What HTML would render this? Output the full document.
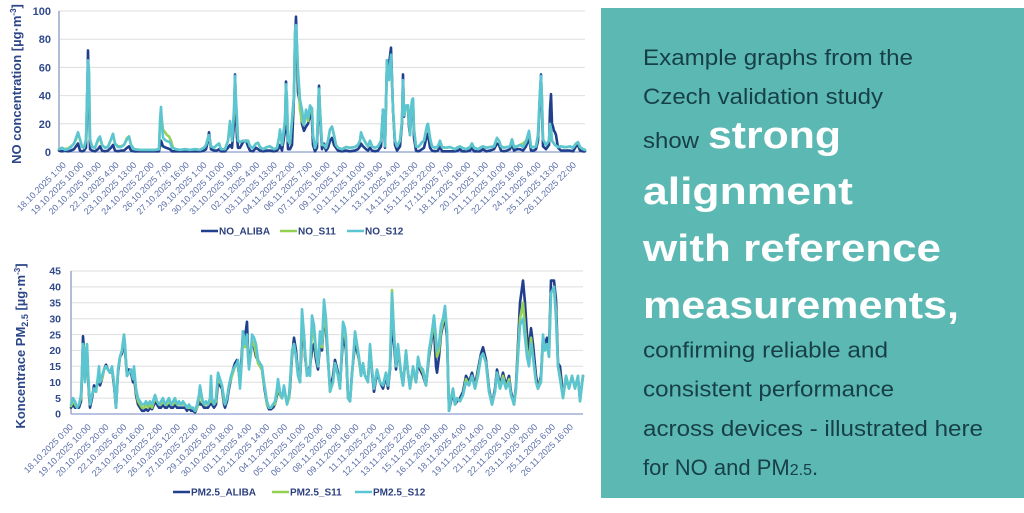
<!DOCTYPE html>
<html>
<head>
<meta charset="utf-8">
<style>
html,body{margin:0;padding:0;background:#fff;width:1024px;height:513px;overflow:hidden;}
svg{display:block;}
</style>
</head>
<body>
<svg width="1024" height="513" viewBox="0 0 1024 513" xmlns="http://www.w3.org/2000/svg">
<rect x="0" y="0" width="1024" height="513" fill="#ffffff"/>

<!-- ================= TOP CHART (NO) ================= -->
<g stroke="#dedede" stroke-width="1">
  <line x1="59" y1="11" x2="585" y2="11"/>
  <line x1="59" y1="39.2" x2="585" y2="39.2"/>
  <line x1="59" y1="67.4" x2="585" y2="67.4"/>
  <line x1="59" y1="95.6" x2="585" y2="95.6"/>
  <line x1="59" y1="123.8" x2="585" y2="123.8"/>
</g>
<line x1="59" y1="152" x2="585" y2="152" stroke="#8e9fd0" stroke-width="1.3"/>
<line x1="59" y1="11" x2="59" y2="152" stroke="#9aa6cc" stroke-width="1.5"/>

<g font-family="Liberation Sans, sans-serif" font-weight="bold" font-size="11" fill="#30498c" text-anchor="end">
  <text x="51" y="15">100</text>
  <text x="51" y="43.2">80</text>
  <text x="51" y="71.4">60</text>
  <text x="51" y="99.6">40</text>
  <text x="51" y="127.8">20</text>
  <text x="51" y="156">0</text>
</g>

<text transform="translate(21,84) rotate(-90)" text-anchor="middle" font-family="Liberation Sans, sans-serif" font-weight="bold" font-size="13" fill="#2c4688">NO concentration [µg·m<tspan font-size="8" dy="-5">-3</tspan><tspan dy="5">]</tspan></text>

<g transform="translate(0,152) scale(1,-1.41)" fill="none" stroke-linejoin="round" stroke-linecap="round">
<polyline vector-effect="non-scaling-stroke" stroke="#203f8c" stroke-width="2.6" points="59,1 62,0.5 65,1 68,0.5 71,1 74,2 76,4 78,6 80,1 82,0.5 84,1 86,3 87,30 88,72 89,40 90,2 92,1 95,0.5 98,2 100,4 102,1 105,0.5 108,1 111,3 113,5 115,1 118,0.5 121,1 124,1 127,3 129,4 131,1 134,0.5 140,0.5 150,0.5 159,0.5 160,4 161,8 162,6 163,4 166,3 170,2 172,0.5 180,0.5 190,0.5 200,0.5 204,1 206,2 208,8 209,14 211,2 214,1 217,1 219,2 221,0.5 225,0.5 228,3 230,5 232,3 234,20 235,55 236,30 237,10 238,3 240,3 243,7 246,8 248,4 250,1 253,0.5 256,3 258,2 260,1 263,0.5 267,1 270,1 274,0.5 277,1 279,3 280,5 282,1 285,15 286,50 287,20 288,2 290,2 292,5 294,40 295,80 296,96 297,70 298,42 300,35 302,20 304,15 306,18 308,20 310,28 312,22 313,5 315,0.5 317,3 319,47 320,25 322,2 324,6 326,1 328,3 330,8 332,10 334,5 336,3 338,1 342,0.5 346,1 350,0.5 355,1 358,2 360,4 361,6 363,4 366,2 368,1 370,3 372,1 375,0.5 378,1 381,4 383,30 385,3 387,65 389,62 391,74 393,30 395,5 397,1 400,4 402,20 403,55 404,25 406,32 408,33 409,18 410,12 411,25 412,35 413,37 414,10 416,1 418,0.5 420,1 422,2 424,3 427,12 428,13 430,3 432,1 435,0.5 438,1 440,4 442,0.5 446,0.5 450,0.5 455,0.5 458,1 460,2 462,0.5 466,0.5 470,1 472,3 474,0.5 478,0.5 480,0.5 483,2 486,0.5 490,1 494,2 497,6 499,5 501,1 504,0.5 507,1 510,2 512,6 514,1 517,2 520,2 523,1 526,4 529,10 531,1 534,1 536,2 538,8 540,40 541,55 542,30 543,4 546,2 549,5 550,30 551,41 552,20 553,18 554,15 555,14 556,12 558,3 561,1 564,1 567,1 570,1 573,0.5 576,4 578,5 580,1 583,0.5 585,0.5"/>
<polyline vector-effect="non-scaling-stroke" stroke="#96d15a" stroke-width="2.6" points="59,2 62,3 65,2 68,2.5 71,4 74,6 76,9 78,13 80,9 82,4 84,3 86,8 88,62 89,55 90,9 92,4 95,3 98,8 100,10 102,5 105,3 108,4 111,9 113,12 115,6 118,4 121,4 124,5 127,10 129,11 131,5 134,2 140,1.5 150,1.5 155,1.5 159,2 160,20 161,28 162,22 163,16 165,14 167,12 169,11 171,8 173,3 176,2 180,1.5 185,2 190,1.5 195,2 200,1.5 204,3 206,5 208,10 209,11 211,4 214,3 217,5 219,6 221,2 225,2 228,8 230,20 232,8 234,28 235,50 236,35 237,22 238,8 240,7 243,8 246,7.5 248,8 250,4 253,3 256,6 258,6.5 260,3.5 263,2 267,3.5 270,4 274,2 277,3 279,10 280,15 282,5 285,22 286,46 287,35 288,8 290,6 292,22 294,40 295,84 296,88 297,75 298,55 300,30 302,22 304,19 306,28 308,22 310,31 312,30 313,12 315,3 317,8 319,44 320,30 322,5 324,5 326,3 328,8 330,16 332,18 334,12 336,5 338,3 342,2 346,3.5 350,3 355,3.5 358,5 360,8 361,13 363,10 366,6 368,4 370,8 372,4 375,3 378,4 381,8 383,28 385,4 387,62 389,55 391,66 393,30 395,8 397,4 400,8 402,22 403,50 404,26 406,31 408,32 409,23 410,12 411,28 412,35 413,36 414,16 416,4 418,3.5 420,5 422,7 424,8 427,18 428,19 430,10 432,4 435,3 438,4 440,8 442,3.5 446,3 450,3.5 455,2 458,3.5 460,4 462,3 466,2 470,3.5 472,6 474,3 478,2 480,3 483,4 486,3 490,3.5 494,4 497,10 499,8 501,4 504,3 507,3.5 510,4 512,9 514,3.5 517,4 520,5 523,6 526,8 529,14 531,3.5 534,3.5 536,4 538,12 540,42 541,52 542,37 543,9 546,5 549,8 550,19 551,16 552,8 555,5 558,3.5 561,4 564,3.5 567,3.5 570,4 573,3 576,6 578,7 580,3.5 583,2 585,1.5"/>
<polyline vector-effect="non-scaling-stroke" stroke="#5cc5d2" stroke-width="2.6" points="59,2 62,3 65,1.5 68,2 71,3.5 74,6 76,10 78,14 80,9 82,3.5 84,3 86,9 88,65 89,58 90,9 92,3.5 95,3 98,9 100,11 102,5 105,3 108,3.5 111,9 113,13 115,6 118,3.5 121,3.5 124,5 127,9 129,11 131,5 134,2 140,1.5 150,1.5 155,1.5 159,2 160,22 161,32 162,19 163,10 166,8 170,7 172,3 176,2 180,1.5 185,2 190,1.5 195,2 200,1.5 204,3 206,5 208,10 209,12 211,4 214,3 217,5 219,6 221,2 225,2 228,8 230,22 232,8 234,30 235,54 236,37 237,24 238,8 240,7 243,8 246,7.5 248,8 250,4 253,3 256,6 258,6.5 260,3.5 263,2 267,3.5 270,4 274,2 277,3 279,10 280,16 282,5 285,23 286,48 287,37 288,8 290,6 292,23 294,40 295,86 296,90 297,76 298,58 300,37 302,30 304,19 306,30 308,24 310,33 312,31 313,12 315,3 317,8 319,45 320,30 322,5 324,5 326,3 328,8 330,16 332,18 334,12 336,5 338,3 342,2 346,3.5 350,3 355,3.5 358,5 360,8 361,14 363,10 366,6 368,4 370,8 372,4 375,3 378,4 381,8 383,30 385,4 387,65 389,51 391,69 393,30 395,8 397,4 400,8 402,22 403,51 404,26 406,33 408,33 409,23 410,12 411,30 412,37 413,38 414,16 416,4 418,3.5 420,5 422,7 424,8 427,19 428,20 430,10 432,4 435,3 438,4 440,8 442,3.5 446,3 450,3.5 455,2 458,3.5 460,4 462,3 466,2 470,3.5 472,6 474,3 478,2 480,3 483,4 486,3 490,3.5 494,4 497,10 499,8 501,4 504,3 507,3.5 510,4 512,9 514,3.5 517,4 520,5 523,3.5 526,7 529,15 531,3.5 534,3.5 536,4 538,12 540,44 541,54 542,37 543,9 546,5 549,8 550,20 551,16 552,8 555,5 558,3.5 561,4 564,3.5 567,3.5 570,4 573,3 576,6 578,7 580,3.5 583,2 585,1.5"/>
</g>

<g font-family="Liberation Sans, sans-serif" font-size="9" fill="#5a6ea8" text-anchor="end">
<text transform="translate(66.6,165.6) rotate(-45)">18.10.2025 1:00</text>
<text transform="translate(84.2,165.6) rotate(-45)">19.10.2025 10:00</text>
<text transform="translate(101.8,165.6) rotate(-45)">20.10.2025 19:00</text>
<text transform="translate(119.4,165.6) rotate(-45)">22.10.2025 4:00</text>
<text transform="translate(137.0,165.6) rotate(-45)">23.10.2025 13:00</text>
<text transform="translate(154.6,165.6) rotate(-45)">24.10.2025 22:00</text>
<text transform="translate(172.1,165.6) rotate(-45)">26.10.2025 7:00</text>
<text transform="translate(189.7,165.6) rotate(-45)">27.10.2025 16:00</text>
<text transform="translate(207.3,165.6) rotate(-45)">29.10.2025 1:00</text>
<text transform="translate(224.9,165.6) rotate(-45)">30.10.2025 10:00</text>
<text transform="translate(242.5,165.6) rotate(-45)">31.10.2025 19:00</text>
<text transform="translate(260.1,165.6) rotate(-45)">02.11.2025 4:00</text>
<text transform="translate(277.7,165.6) rotate(-45)">03.11.2025 13:00</text>
<text transform="translate(295.3,165.6) rotate(-45)">04.11.2025 22:00</text>
<text transform="translate(312.9,165.6) rotate(-45)">06.11.2025 7:00</text>
<text transform="translate(330.5,165.6) rotate(-45)">07.11.2025 16:00</text>
<text transform="translate(348.0,165.6) rotate(-45)">09.11.2025 1:00</text>
<text transform="translate(365.6,165.6) rotate(-45)">10.11.2025 10:00</text>
<text transform="translate(383.2,165.6) rotate(-45)">11.11.2025 19:00</text>
<text transform="translate(400.8,165.6) rotate(-45)">13.11.2025 4:00</text>
<text transform="translate(418.4,165.6) rotate(-45)">14.11.2025 13:00</text>
<text transform="translate(436.0,165.6) rotate(-45)">15.11.2025 22:00</text>
<text transform="translate(453.6,165.6) rotate(-45)">17.11.2025 7:00</text>
<text transform="translate(471.2,165.6) rotate(-45)">18.11.2025 16:00</text>
<text transform="translate(488.8,165.6) rotate(-45)">20.11.2025 1:00</text>
<text transform="translate(506.4,165.6) rotate(-45)">21.11.2025 10:00</text>
<text transform="translate(523.9,165.6) rotate(-45)">22.11.2025 19:00</text>
<text transform="translate(541.5,165.6) rotate(-45)">24.11.2025 4:00</text>
<text transform="translate(559.1,165.6) rotate(-45)">25.11.2025 13:00</text>
<text transform="translate(576.7,165.6) rotate(-45)">26.11.2025 22:00</text>
</g>

<!-- top legend -->
<g stroke-width="2.5">
  <line x1="201" y1="231" x2="218" y2="231" stroke="#203f8c"/>
  <line x1="280" y1="231" x2="297" y2="231" stroke="#92d050"/>
  <line x1="347" y1="231" x2="364" y2="231" stroke="#5cc5d2"/>
</g>
<g font-family="Liberation Sans, sans-serif" font-weight="bold" font-size="10" fill="#2b3f7e">
  <text x="219" y="234.5">NO_ALIBA</text>
  <text x="298" y="234.5">NO_S11</text>
  <text x="365" y="234.5">NO_S12</text>
</g>

<!-- ================= BOTTOM CHART (PM2.5) ================= -->
<g stroke="#dedede" stroke-width="1">
  <line x1="71" y1="271" x2="583" y2="271"/>
  <line x1="71" y1="286.9" x2="583" y2="286.9"/>
  <line x1="71" y1="302.8" x2="583" y2="302.8"/>
  <line x1="71" y1="318.7" x2="583" y2="318.7"/>
  <line x1="71" y1="334.6" x2="583" y2="334.6"/>
  <line x1="71" y1="350.4" x2="583" y2="350.4"/>
  <line x1="71" y1="366.3" x2="583" y2="366.3"/>
  <line x1="71" y1="382.2" x2="583" y2="382.2"/>
  <line x1="71" y1="398.1" x2="583" y2="398.1"/>
</g>
<line x1="71" y1="414" x2="583" y2="414" stroke="#8e9fd0" stroke-width="1.3"/>
<line x1="71" y1="271" x2="71" y2="414" stroke="#9aa6cc" stroke-width="1.5"/>

<g font-family="Liberation Sans, sans-serif" font-weight="bold" font-size="10.5" fill="#30498c" text-anchor="end">
  <text x="61" y="274.7">45</text>
  <text x="61" y="290.6">40</text>
  <text x="61" y="306.5">35</text>
  <text x="61" y="322.4">30</text>
  <text x="61" y="338.3">25</text>
  <text x="61" y="354.1">20</text>
  <text x="61" y="370">15</text>
  <text x="61" y="385.9">10</text>
  <text x="61" y="401.8">5</text>
  <text x="61" y="417.7">0</text>
</g>

<text transform="translate(25,346) rotate(-90)" text-anchor="middle" font-family="Liberation Sans, sans-serif" font-weight="bold" font-size="13" fill="#2c4688">Koncentrace PM<tspan font-size="9" dy="3">2.5</tspan><tspan dy="-3"> [µg·m</tspan><tspan font-size="8" dy="-5">-3</tspan><tspan dy="5">]</tspan></text>

<g transform="translate(0,414) scale(1,-3.178)" fill="none" stroke-linejoin="round" stroke-linecap="round">
<polyline vector-effect="non-scaling-stroke" stroke="#203f8c" stroke-width="2.6" points="71,2 73,3 75,2 77,2 79,2 81,4 82,12 83,24.5 84,20 85,12 86,20 87,17 88,12 89,6 90,2 92,5 94,9 96,8 98,10 99,12 100,9 102,11 104,14 106,15.5 108,14 110,13 112,14 114,9 116,2 118,13 120,18 122,19 124,24 125,20 127,12 129,14 131,13 133,10 134,12 136,6 138,3 140,2 142,1 144,1 146,1.5 148,1 150,2 152,1.5 154,3 155,4 157,3 159,2 161,2 163,3 165,2 167,2 169,3 171,2 173,2 175,3 177,2 179,2 181,2 183,2 185,2 187,1 189,2 191,1 193,1 195,0.5 197,2 199,4 200,3 202,3 204,2 206,2 208,2 210,3 211,4 212,3 214,2 216,3 218,10 220,9 222,8 224,3 225,2 227,4 229,8 231,11 233,14 235,16 237,17 238,15 240,10 242,20 243,26 245,24 247,29 248,20 249,16 251,20 252,22 254,21 256,18 258,17 260,15 262,14 264,9 265,7 267,3 269,1.5 271,1.5 273,2 275,3 277,6 278,8 280,6 282,5 284,8 286,5 287,4 289,5 290,8 292,18 294,24 296,20 298,13 300,10 302,24 304,25 305,18 307,13 309,14 310,15 312,20 314,22 316,17 318,14 320,22 322,20 324,30 326,26 328,17 330,8 333,12 335,17 338,13 340,9 343,24 345,22 346,20 348,5 350,4 352,13 355,22 357,20 359,17 361,13 363,15 365,12 368,11 370,20 372,13 374,7 377,13 380,10 383,8 386,12 388,8 390,14 392,30 394,22 396,14 398,20 401,13 403,9 406,19 408,13 410,9 413,14 416,10 418,16 420,14 423,12 426,9 429,18 432,24 434,27 436,15 437,13 439,18 441,25 443,28 445,30 447,24 449,1 451,4 453,7 455,3 457,4 460,5 463,7 466,12 469,10 472,13 475,9 478,14 481,19 483,21 486,17 489,8 492,3 495,8 497,14 500,9 503,13 506,9 509,12 511,7 514,3 516,9 518,22 520,35 523,42 525,35 527,25 529,20 531,27 533,22 536,12 538,8 541,12 543,24 545,22 547,24 549,20 551,42 554,42 556,36 558,16 560,15 563,6 566,11 569,9 572,11 575,9 578,11 580,5 583,12"/>
<polyline vector-effect="non-scaling-stroke" stroke="#96d15a" stroke-width="2.6" points="71,2.5 73,4 75,3 77,2 79,3 81,5 82,13 83,22 84,21 85,11 86,19 87,22 88,13 89,7 90,3 92,6 94,8 96,7 98,11 99,14 100,10 102,11 104,14 106,15 108,14 110,13 112,14 114,10 116,2 118,14 120,18 122,20 124,25 125,21 127,12 129,13 131,14 133,11 134,14 136,7 138,4 140,3 142,2 144,2 146,3 148,2 150,3 152,2 154,4 155,5 157,4 159,3 161,3 163,4 165,3 167,3 169,4 171,3 173,3 175,4 177,3 179,3 181,3 183,3 185,3 187,2 189,2 191,2 193,2 195,1 197,2 199,5 200,8 202,4 204,3 206,3 208,3 210,4 211,10 212,4 214,3 216,4 218,12 220,10 222,9 224,4 225,3 227,5 229,9 231,11 233,13 235,15 237,16 238,16 240,9 242,18 243,24 245,21 247,24 248,18 249,15 251,19 252,23 254,22 256,19 258,16 260,15 262,14 264,9 265,8 267,3 269,2 271,2 273,3 275,3 277,7 278,10 280,6 282,5 284,8 286,5 287,3 289,5 290,9 292,19 294,22 296,18 298,12 300,10 302,28 304,24 305,19 307,12 309,14 310,13 312,27 314,25 316,19 318,15 320,24 322,21 324,30 326,28 328,18 330,7 333,10 335,16 338,12 340,8 343,28 345,25 346,22 348,5 350,4 352,12 355,25 357,22 359,17 361,12 363,16 365,12 368,10 370,21 372,14 374,8 377,14 380,10 383,9 386,13 388,9 390,15 392,39 394,25 396,15 398,21 401,13 403,9 406,20 408,13 410,8 413,14 416,10 418,17 420,15 423,13 426,9 429,19 432,25 434,30 436,22 437,18 439,20 441,26 443,29 445,32 447,26 449,1 451,5 453,8 455,3 457,5 460,4 463,6 466,11 469,9 472,12 475,8 478,13 481,18 483,19 486,16 489,7 492,3 495,7 497,13 500,8 503,12 506,8 509,11 511,6 514,3 516,8 518,20 520,30 523,35 525,27 527,20 529,16 531,24 533,18 536,10 538,8 541,11 543,22 545,20 547,22 549,18 551,38 554,40 556,32 558,15 560,12 563,5 566,12 569,8 572,12 575,8 578,12 580,4 583,12"/>
<polyline vector-effect="non-scaling-stroke" stroke="#5cc5d2" stroke-width="2.6" points="71,3 73,5 75,4 77,2 79,3 81,6 82,14 83,22 84,20 85,10 86,18 87,22 88,14 89,8 90,3 92,6 94,8 96,7 98,12 99,15 100,10 102,12 104,14 106,15 108,14 110,13 112,15 114,10 116,2 118,14 120,18 122,20 124,25 125,22 127,12 129,13 131,14 133,11 134,15 136,8 138,5 140,4 142,3 144,3 146,4 148,3 150,4 152,3 154,5 155,6 157,4 159,3 161,4 163,5 165,3 167,4 169,5 171,3 173,4 175,5 177,3 179,4 181,3 183,4 185,3 187,2 189,3 191,2 193,2 195,1 197,3 199,6 200,9 202,5 204,3 206,4 208,3 210,5 211,12 212,5 214,3 216,5 218,13 220,11 222,9 224,5 225,3 227,5 229,9 231,12 233,14 235,15 237,16 238,17 240,8 242,18 243,26 245,22 247,25 248,18 249,14 251,20 252,25 254,24 256,22 258,17 260,16 262,15 264,10 265,8 267,4 269,2 271,2 273,3 275,4 277,8 278,11 280,7 282,5 284,9 286,5 287,3 289,6 290,10 292,20 294,22 296,18 298,12 300,10 302,33 304,25 305,20 307,12 309,14 310,12 312,31 314,28 316,20 318,15 320,26 322,22 324,36 326,30 328,18 330,7 333,10 335,16 338,12 340,8 343,29 345,27 346,24 348,5 350,4 352,12 355,26 357,22 359,18 361,12 363,16 365,12 368,10 370,22 372,14 374,8 377,14 380,10 383,9 386,13 388,9 390,15 392,38 394,25 396,15 398,22 401,13 403,9 406,20 408,13 410,8 413,15 416,10 418,18 420,15 423,14 426,9 429,20 432,26 434,31 436,24 437,20 439,22 441,28 443,30 445,34 447,26 449,1 451,5 453,8 455,3 457,5 460,4 463,6 466,10 469,9 472,12 475,8 478,12 481,18 483,19 486,16 489,7 492,3 495,7 497,13 500,8 503,11 506,8 509,10 511,6 514,3 516,8 518,18 520,28 523,30 525,24 527,18 529,15 531,22 533,18 536,10 538,8 541,10 543,25 545,20 547,22 549,18 551,38 554,40 556,30 558,15 560,11 563,5 566,12 569,8 572,12 575,8 578,12 580,4 583,12"/>
</g>

<g font-family="Liberation Sans, sans-serif" font-size="9" fill="#5a6ea8" text-anchor="end">
<text transform="translate(73.6,427.6) rotate(-45)">18.10.2025 0:00</text>
<text transform="translate(91.5,427.6) rotate(-45)">19.10.2025 10:00</text>
<text transform="translate(109.3,427.6) rotate(-45)">20.10.2025 20:00</text>
<text transform="translate(127.2,427.6) rotate(-45)">22.10.2025 6:00</text>
<text transform="translate(145.0,427.6) rotate(-45)">23.10.2025 16:00</text>
<text transform="translate(162.9,427.6) rotate(-45)">25.10.2025 2:00</text>
<text transform="translate(180.8,427.6) rotate(-45)">26.10.2025 12:00</text>
<text transform="translate(198.6,427.6) rotate(-45)">27.10.2025 22:00</text>
<text transform="translate(216.5,427.6) rotate(-45)">29.10.2025 8:00</text>
<text transform="translate(234.3,427.6) rotate(-45)">30.10.2025 18:00</text>
<text transform="translate(252.2,427.6) rotate(-45)">01.11.2025 4:00</text>
<text transform="translate(270.1,427.6) rotate(-45)">02.11.2025 14:00</text>
<text transform="translate(287.9,427.6) rotate(-45)">04.11.2025 0:00</text>
<text transform="translate(305.8,427.6) rotate(-45)">05.11.2025 10:00</text>
<text transform="translate(323.6,427.6) rotate(-45)">06.11.2025 20:00</text>
<text transform="translate(341.5,427.6) rotate(-45)">08.11.2025 6:00</text>
<text transform="translate(359.4,427.6) rotate(-45)">09.11.2025 16:00</text>
<text transform="translate(377.2,427.6) rotate(-45)">11.11.2025 2:00</text>
<text transform="translate(395.1,427.6) rotate(-45)">12.11.2025 12:00</text>
<text transform="translate(412.9,427.6) rotate(-45)">13.11.2025 22:00</text>
<text transform="translate(430.8,427.6) rotate(-45)">15.11.2025 8:00</text>
<text transform="translate(448.7,427.6) rotate(-45)">16.11.2025 18:00</text>
<text transform="translate(466.5,427.6) rotate(-45)">18.11.2025 4:00</text>
<text transform="translate(484.4,427.6) rotate(-45)">19.11.2025 14:00</text>
<text transform="translate(502.2,427.6) rotate(-45)">21.11.2025 0:00</text>
<text transform="translate(520.1,427.6) rotate(-45)">22.11.2025 10:00</text>
<text transform="translate(538.0,427.6) rotate(-45)">23.11.2025 20:00</text>
<text transform="translate(555.8,427.6) rotate(-45)">25.11.2025 6:00</text>
<text transform="translate(573.7,427.6) rotate(-45)">26.11.2025 16:00</text>
</g>

<!-- bottom legend -->
<g stroke-width="2.5">
  <line x1="173" y1="492" x2="190" y2="492" stroke="#203f8c"/>
  <line x1="272" y1="492" x2="289" y2="492" stroke="#92d050"/>
  <line x1="355" y1="492" x2="372" y2="492" stroke="#5cc5d2"/>
</g>
<g font-family="Liberation Sans, sans-serif" font-weight="bold" font-size="10" fill="#2b3f7e">
  <text x="191" y="495.5">PM2.5_ALIBA</text>
  <text x="290" y="495.5">PM2.5_S11</text>
  <text x="373" y="495.5">PM2.5_S12</text>
</g>

<!-- ================= RIGHT PANEL ================= -->
<rect x="601" y="8" width="423" height="490" fill="#5cb8b2"/>
<g font-family="Liberation Sans, sans-serif" font-size="22" fill="#173f4a">
  <text x="643" y="65" textLength="270" lengthAdjust="spacingAndGlyphs">Example graphs from the</text>
  <text x="643" y="104" textLength="240" lengthAdjust="spacingAndGlyphs">Czech validation study</text>
  <text x="643" y="148" textLength="56" lengthAdjust="spacingAndGlyphs">show</text>
  <text x="643" y="357.5" textLength="245" lengthAdjust="spacingAndGlyphs">confirming reliable and</text>
  <text x="643" y="396.5" textLength="251" lengthAdjust="spacingAndGlyphs">consistent performance</text>
  <text x="643" y="436" textLength="340" lengthAdjust="spacingAndGlyphs">across devices - illustrated here</text>
  <text x="643" y="475">for NO and PM<tspan font-size="16">2.5</tspan>.</text>
</g>
<g font-family="Liberation Sans, sans-serif" font-weight="bold" font-size="38" fill="#ffffff">
  <text x="708" y="148" textLength="133" lengthAdjust="spacingAndGlyphs">strong</text>
  <text x="643" y="204" textLength="210" lengthAdjust="spacingAndGlyphs">alignment</text>
  <text x="643" y="261" textLength="298" lengthAdjust="spacingAndGlyphs">with reference</text>
  <text x="643" y="318" textLength="316" lengthAdjust="spacingAndGlyphs">measurements,</text>
</g>
</svg>
</body>
</html>
